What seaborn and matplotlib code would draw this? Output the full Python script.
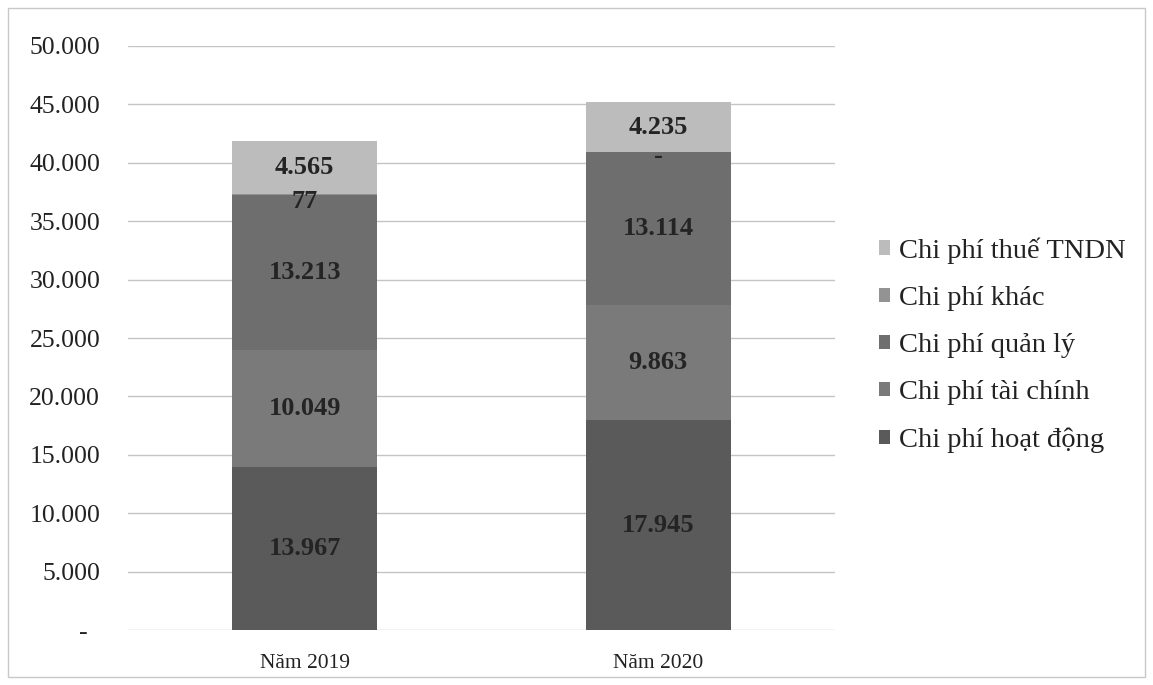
import matplotlib
matplotlib.use("Agg")
import matplotlib.pyplot as plt
import seaborn as sns
import pandas as pd
import numpy as np
from matplotlib.patches import Rectangle

years = ["Năm 2019", "Năm 2020"]
series = ["Chi phí hoạt động", "Chi phí tài chính", "Chi phí quản lý", "Chi phí khác", "Chi phí thuế TNDN"]
hoat_dong = [13967, 17945]
tai_chinh = [10049, 9863]
quan_ly = [13213, 13114]
khac = [77, 0]
thue = [4565, 4235]
values = [hoat_dong, tai_chinh, quan_ly, khac, thue]
colors = ["#5a5a5a", "#7a7a7a", "#6e6e6e", "#939393", "#bcbcbc"]

sns.set_theme(style="white")
plt.rcParams['font.family'] = ['Liberation Serif', 'DejaVu Serif']

fig = plt.figure(figsize=(11.53, 6.85), dpi=100)
ax = fig.add_axes([0.111, 0.080, 0.613, 0.853])

bottoms = np.zeros(len(years))
for name, vals, col in zip(series, values, colors):
    df = pd.DataFrame({"year": years, "value": vals})
    sns.barplot(data=df, x="year", y="value", color=col, width=0.41, bottom=bottoms,
                ax=ax, label=name, saturation=1, edgecolor="none", zorder=3)
    for i, v in enumerate(vals):
        y = bottoms[i] + v / 2
        txt = f"{v:,}".replace(",", ".") if v > 0 else "-"
        dy = 0
        if v == 0:
            dy = -3
        elif v < 1000:
            dy = -5
        ax.annotate(txt, (i, y), xytext=(0, dy), textcoords="offset points",
                    ha="center", va="center", fontsize=19, fontweight="bold",
                    color="#242424", zorder=5)
    bottoms = bottoms + np.array(vals)

ax.set_xlim(-0.5, 1.5)
ax.set_ylim(0, 50000)
ticks = np.arange(0, 50001, 5000)
ax.set_yticks(ticks)
ax.set_yticklabels(["-  "] + [f"{t:,}".replace(",", ".") for t in ticks[1:]], fontsize=18.5, color="#222222")
ax.tick_params(axis="y", length=0, pad=20)
ax.tick_params(axis="x", length=0, pad=17, labelsize=15.5, labelcolor="#222222")
ax.set_xlabel("")
ax.set_ylabel("")
ax.yaxis.grid(True, color="#c4c4c4", linewidth=1.0, zorder=0)
ax.set_axisbelow(True)
for s in ax.spines.values():
    s.set_visible(False)

if ax.get_legend():
    ax.get_legend().remove()
handles, labels = ax.get_legend_handles_labels()
leg = fig.legend(handles[::-1], labels[::-1], loc="center left", bbox_to_anchor=(0.740, 0.496),
                 frameon=False, fontsize=20.5, labelspacing=0.78, handlelength=0.4, handleheight=0.4,
                 handletextpad=0.3)
for t in leg.get_texts():
    t.set_color("#222222")

fig.patches.append(Rectangle((0.007, 0.012), 0.986, 0.976, transform=fig.transFigure,
                             fill=False, edgecolor="#c8c8c8", linewidth=1.0))

fig.savefig("out.png", dpi=100)
